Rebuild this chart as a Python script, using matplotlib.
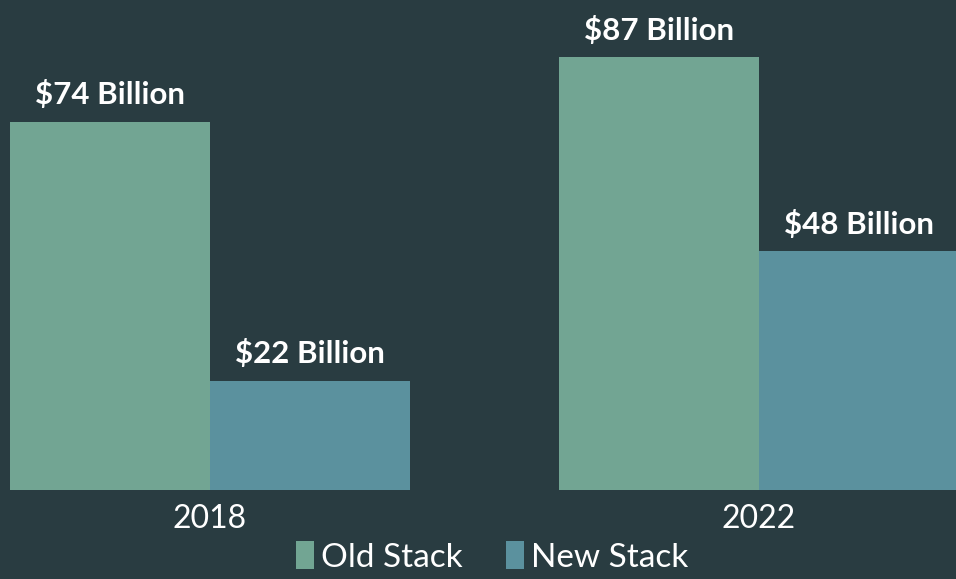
import matplotlib.pyplot as plt
import numpy as np

# 数据
years = ['2018', '2022']
old_stack = [74, 87]
new_stack = [22, 48]
series_names = ['Old Stack', 'New Stack']

bg = '#293c41'
c_old = '#72a593'
c_new = '#5b919e'

plt.rcParams['font.family'] = ['Lato', 'DejaVu Sans']

fig = plt.figure(figsize=(9.56, 5.79), dpi=100, facecolor=bg)
ax = fig.add_axes([0, 89 / 579, 1, 490 / 579])
ax.set_facecolor(bg)

x = np.arange(len(years))
w = 0.364
b1 = ax.bar(x - w / 2, old_stack, w, color=c_old, label=series_names[0])
b2 = ax.bar(x + w / 2, new_stack, w, color=c_new, label=series_names[1])

# 柱顶标签
for bars, vals in [(b1, old_stack), (b2, new_stack)]:
    for bar, v in zip(bars, vals):
        ax.annotate(f'${v} Billion', (bar.get_x() + bar.get_width() / 2, v),
                    xytext=(0, 9), textcoords='offset points',
                    ha='center', va='bottom', color='white',
                    fontsize=22.5, fontweight='bold')

ax.set_xlim(-0.3825, 1.359)
ax.set_ylim(0, 98.5)
ax.set_xticks(x)
ax.set_xticklabels(years, color='white', fontsize=23)
ax.tick_params(axis='x', length=0, pad=10)
ax.set_yticks([])
for s in ax.spines.values():
    s.set_visible(False)

leg = fig.legend(handles=[b1, b2], loc='center', ncol=2,
                 bbox_to_anchor=(492 / 956, 1 - 557 / 579),
                 frameon=False, fontsize=24, handlelength=0.55,
                 handleheight=0.9, handletextpad=0.2, columnspacing=1.3)
for t in leg.get_texts():
    t.set_color('white')

fig.savefig('out.png', dpi=100, facecolor=bg)
